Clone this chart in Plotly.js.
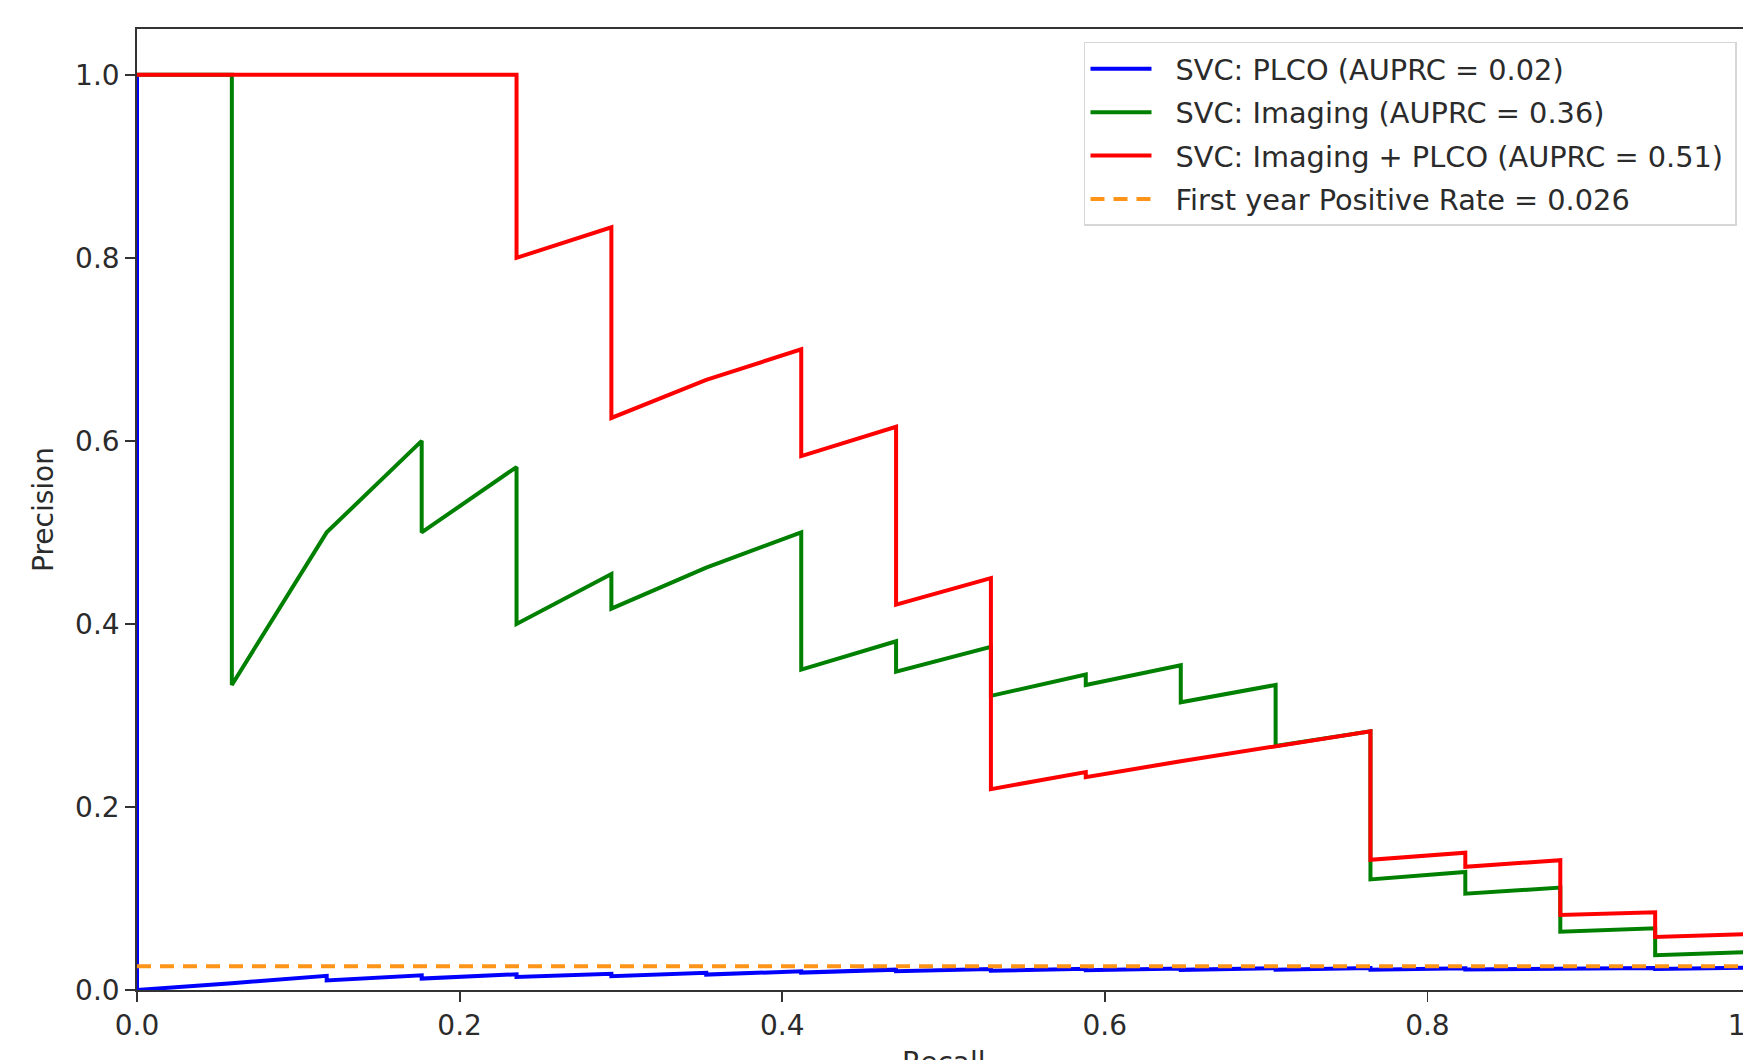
<!DOCTYPE html>
<html>
<head>
<meta charset="utf-8">
<script src="https://cdn.plot.ly/plotly-3.0.1.min.js"></script>
<style>
  html, body { margin: 0; padding: 0; overflow: hidden; background: #ffffff; }
  #chart { width: 1760px; height: 1060px; }
</style>
</head>
<body>
<div id="chart"></div>
<script>
// Precision-recall curves, one per SVC feature set (recall, precision pairs)
const recallPLCO = [0, 0, 0.0588, 0.1176, 0.1176, 0.1765, 0.1765, 0.2353, 0.2353, 0.2941, 0.2941,
  0.3529, 0.3529, 0.4118, 0.4118, 0.4706, 0.4706, 0.5294, 0.5294, 0.5882, 0.5882, 0.6471, 0.6471,
  0.7059, 0.7059, 0.7647, 0.7647, 0.8235, 0.8235, 0.8824, 0.8824, 0.9412, 0.9412, 1.0];
const precisionPLCO = [1.0, 0.0, 0.0075, 0.0155, 0.0105, 0.0160, 0.0125, 0.0172, 0.0142, 0.0178, 0.0150,
  0.0188, 0.0168, 0.0205, 0.0190, 0.0222, 0.0205, 0.0230, 0.0210, 0.0232, 0.0215, 0.0235, 0.0220,
  0.0238, 0.0222, 0.0240, 0.0222, 0.0238, 0.0225, 0.0238, 0.0228, 0.0240, 0.0230, 0.0245];

const recallImaging = [0, 0.0588, 0.0588, 0.1176, 0.1765, 0.1765, 0.2353, 0.2353, 0.2941, 0.2941,
  0.3529, 0.4118, 0.4118, 0.4706, 0.4706, 0.5294, 0.5294, 0.5882, 0.5882, 0.6471, 0.6471,
  0.7059, 0.7059, 0.7647, 0.7647, 0.8235, 0.8235, 0.8824, 0.8824, 0.9412, 0.9412, 1.0];
const precisionImaging = [1.0, 1.0, 0.3333, 0.5, 0.6, 0.5, 0.5714, 0.4, 0.4545, 0.4167,
  0.4615, 0.5, 0.35, 0.381, 0.3478, 0.375, 0.3214, 0.3448, 0.3333, 0.3548, 0.3143,
  0.3333, 0.2667, 0.2826, 0.1208, 0.1290, 0.1053, 0.1119, 0.0637, 0.0675, 0.0381, 0.0415];

const recallCombined = [0, 0.2353, 0.2353, 0.2941, 0.2941, 0.3529, 0.4118, 0.4118, 0.4706, 0.4706,
  0.5294, 0.5294, 0.5882, 0.5882, 0.6471, 0.7059, 0.7647, 0.7647, 0.8235, 0.8235,
  0.8824, 0.8824, 0.9412, 0.9412, 1.0];
const precisionCombined = [1.0, 1.0, 0.8, 0.8333, 0.625, 0.6667, 0.7, 0.5833, 0.6154, 0.4211,
  0.45, 0.2195, 0.2381, 0.2326, 0.25, 0.2667, 0.2826, 0.1422, 0.15, 0.1346,
  0.1418, 0.082, 0.085, 0.058, 0.061];

// Baseline: share of positives in the first year
const baselineRecall = [0, 1];
const positiveRate = 0.026;

const seriesNames = [
  'SVC: PLCO (AUPRC = 0.02)',
  'SVC: Imaging (AUPRC = 0.36)',
  'SVC: Imaging + PLCO (AUPRC = 0.51)',
  'First year Positive Rate = 0.026'
];

const xTickValues = [0, 0.2, 0.4, 0.6, 0.8, 1.0];
const yTickValues = [0, 0.2, 0.4, 0.6, 0.8, 1.0];

const FONT = 'DejaVu Sans, sans-serif';
const TEXT = '#2b2b2b';
const LW = 4;

const traces = [
  { x: recallPLCO, y: precisionPLCO, name: seriesNames[0], legendgroup: 'a',
    mode: 'lines', line: { color: '#0000ff', width: LW } },
  { x: recallImaging, y: precisionImaging, name: seriesNames[1], legendgroup: 'b',
    mode: 'lines', line: { color: '#008000', width: LW } },
  { x: recallCombined, y: precisionCombined, name: seriesNames[2], legendgroup: 'c',
    mode: 'lines', line: { color: '#ff0000', width: LW } },
  { x: baselineRecall, y: baselineRecall.map(() => positiveRate), name: seriesNames[3], legendgroup: 'd',
    mode: 'lines', line: { color: '#ff9418', width: LW, dash: '14px,9px' } }
];

const axisCommon = {
  showgrid: false, zeroline: false,
  showline: true, mirror: true, linecolor: '#333333', linewidth: 1.8,
  ticks: 'outside', ticklen: 10, tickwidth: 1.8, tickcolor: '#333333',
  tickfont: { family: FONT, size: 28, color: TEXT },
  tickformat: '.1f', ticklabeloverflow: 'allow'
};

const layout = {
  width: 1760, height: 1060,
  margin: { l: 137, r: 10, t: 29, b: 70 },
  paper_bgcolor: '#ffffff', plot_bgcolor: '#ffffff',
  font: { family: FONT, size: 28, color: TEXT },
  showlegend: true,
  legend: {
    x: 0.5871, y: 0.9865, xanchor: 'left', yanchor: 'top',
    bgcolor: 'rgba(255,255,255,0.85)', bordercolor: '#d6d6d6', borderwidth: 1.5,
    font: { family: FONT, size: 28.8, color: TEXT },
    tracegroupgap: 3, itemwidth: 80
  },
  xaxis: Object.assign({}, axisCommon, {
    range: [0, 1], tickvals: xTickValues
  }),
  yaxis: Object.assign({}, axisCommon, {
    range: [0, 1.05], tickvals: yTickValues,
    title: { text: 'Precision', font: { family: FONT, size: 28, color: TEXT }, standoff: 13 }
  }),
  // x-axis label sits low, below the tick labels, partly past the page edge
  annotations: [{
    text: 'Recall', xref: 'paper', yref: 'paper', x: 0.5, y: 0,
    xanchor: 'center', yanchor: 'top', yshift: -54, showarrow: false,
    font: { family: FONT, size: 28, color: TEXT }
  }]
};

Plotly.newPlot('chart', traces, layout, { staticPlot: true, displayModeBar: false }).then(function (gd) {
  // Shorter legend line samples, and a little right padding inside the legend box
  gd.querySelectorAll('.legend .legendlines path').forEach(function (p) {
    p.setAttribute('d', 'M5,0h61');
  });
  var bg = gd.querySelector('.legend rect.bg');
  if (bg) {
    var w = parseFloat(bg.getAttribute('width'));
    bg.setAttribute('width', w + 7);
  }
});
</script>
</body>
</html>
